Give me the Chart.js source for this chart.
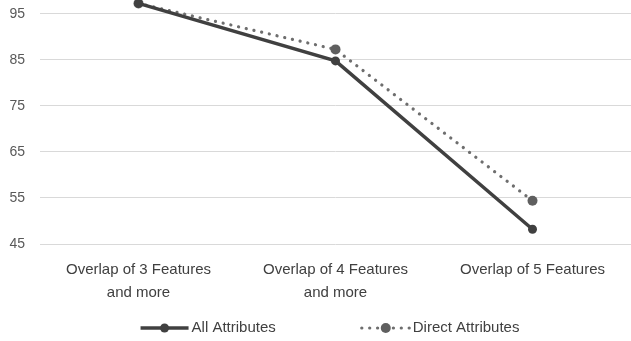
<!DOCTYPE html>
<html>
<head>
<meta charset="utf-8">
<script src="https://cdn.jsdelivr.net/npm/chart.js@4/dist/chart.umd.min.js"></script>
<style>
  html, body { margin: 0; padding: 0; background: #fff; }
  #wrap { width: 631px; height: 341px; }
</style>
</head>
<body>
<div id="wrap"><canvas id="c" width="631" height="341"></canvas></div>
<script>
// Category labels (two lines where wrapped)
const categories = [
  ['Overlap of 3 Features', 'and more'],
  ['Overlap of 4 Features', 'and more'],
  ['Overlap of 5 Features']
];
const allAttributes = [97.3, 84.8, 48.2];
const directAttributes = [97.3, 87.3, 54.4];
const yTicks = [45, 55, 65, 75, 85, 95];

const FONT = '"Liberation Sans", Arial, sans-serif';

// Legend drawn under the axis: line sample with a marker, then the label
const legendPlugin = {
  id: 'lineLegend',
  afterDraw(chart) {
    const ctx = chart.ctx;
    const y = 328;
    const sample = 48, gapText = 3, gapItem = 86;
    ctx.save();
    ctx.font = '15px ' + FONT;
    const items = chart.data.datasets.map(ds => ({ ds, w: sample + gapText + ctx.measureText(ds.label).width }));
    const total = items.reduce((s, it) => s + it.w, 0) + gapItem * (items.length - 1);
    let x = 330 - total / 2;
    items.forEach(({ ds, w }) => {
      ctx.strokeStyle = ds.borderColor;
      ctx.lineWidth = ds.borderWidth;
      ctx.lineCap = ds.borderCapStyle || 'butt';
      ctx.setLineDash(ds.borderDash || []);
      ctx.beginPath();
      ctx.moveTo(x, y);
      ctx.lineTo(x + sample, y);
      ctx.stroke();
      ctx.setLineDash([]);
      ctx.fillStyle = ds.pointBackgroundColor;
      ctx.beginPath();
      ctx.arc(x + sample / 2, y, ds.pointRadius, 0, Math.PI * 2);
      ctx.fill();
      ctx.fillStyle = '#404040';
      ctx.textBaseline = 'middle';
      ctx.textAlign = 'left';
      ctx.fillText(ds.label, x + sample + gapText, y);
      x += w + gapItem;
    });
    ctx.restore();
  }
};

new Chart(document.getElementById('c'), {
  type: 'line',
  data: {
    labels: categories,
    datasets: [
      {
        label: 'All Attributes',
        data: allAttributes,
        borderColor: '#404040',
        backgroundColor: '#404040',
        pointBackgroundColor: '#404040',
        pointBorderWidth: 0,
        borderWidth: 3.5,
        pointRadius: 4.5,
        tension: 0,
        clip: false
      },
      {
        label: 'Direct Attributes',
        data: directAttributes,
        borderColor: '#6e6e6e',
        backgroundColor: '#5f5f5f',
        pointBackgroundColor: '#5f5f5f',
        pointBorderWidth: 0,
        borderWidth: 3.2,
        borderDash: [0.1, 7.8],
        borderCapStyle: 'round',
        pointRadius: 5,
        tension: 0,
        clip: false
      }
    ]
  },
  options: {
    responsive: false,
    animation: false,
    events: [],
    layout: { autoPadding: false, padding: { top: 0, left: 0, right: -3, bottom: 36 } },
    plugins: {
      legend: { display: false },
      tooltip: { enabled: false }
    },
    scales: {
      x: {
        offset: true,
        grid: { display: false, drawTicks: false },
        border: { display: false },
        ticks: {
          color: '#404040',
          font: { family: FONT, size: 15, lineHeight: 23 / 15 },
          padding: 14,
          maxRotation: 0,
          autoSkip: false
        },
        afterFit(s) { s.height = 61; s.paddingLeft = 0; s.paddingRight = 0; }
      },
      y: {
        min: 45,
        max: 98.04,
        grid: { color: '#d9d9d9', lineWidth: 1, drawTicks: false },
        border: { display: false },
        ticks: {
          color: '#595959',
          font: { family: FONT, size: 14 },
          padding: 15
        },
        afterBuildTicks(s) { s.ticks = yTicks.map(v => ({ value: v })); },
        afterFit(s) { s.width = 40; s.paddingTop = 0; s.paddingBottom = 0; }
      }
    }
  },
  plugins: [legendPlugin]
});
</script>
</body>
</html>
